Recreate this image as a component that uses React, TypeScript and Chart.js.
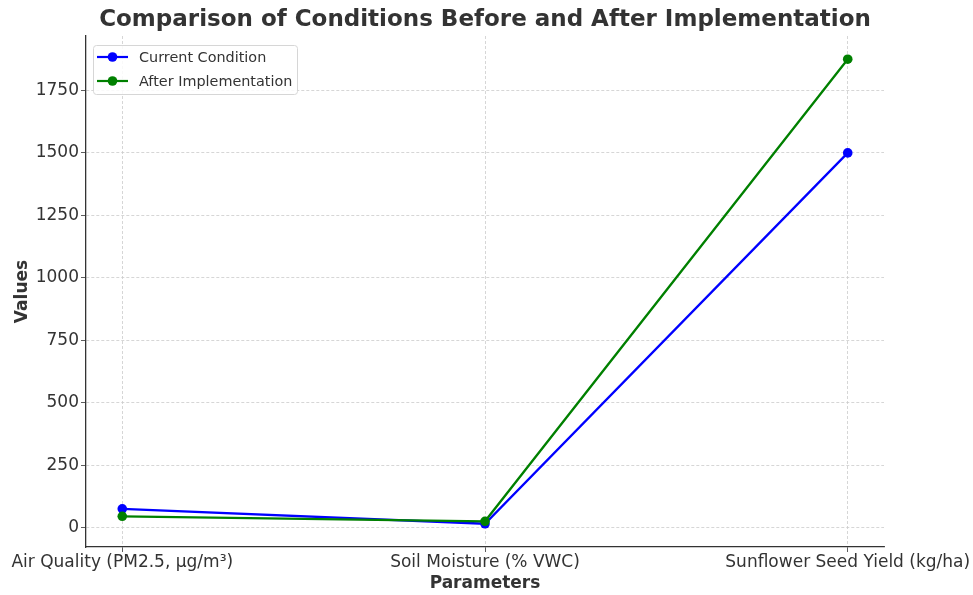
import React, { useEffect, useRef } from "react";
import { Chart, registerables } from "chart.js";

Chart.register(...registerables);

const categories = [
  "Air Quality (PM2.5, µg/m³)",
  "Soil Moisture (% VWC)",
  "Sunflower Seed Yield (kg/ha)",
];
const currentCondition = [75, 15, 1500];
const afterImplementation = [45, 25, 1875];
const yTickValues = [0, 250, 500, 750, 1000, 1250, 1500, 1750];
const seriesNames = ["Current Condition", "After Implementation"];
const seriesColors = ["#0000ff", "#008000"];
const titleText = "Comparison of Conditions Before and After Implementation";
const xTitle = "Parameters";
const yTitle = "Values";

const FONT = "'DejaVu Sans', sans-serif";
const TEXT = "#333333";

const decorPlugin = {
  id: "decor",
  afterDraw(chart: any) {
    const ctx = chart.ctx as CanvasRenderingContext2D;
    const ca = chart.chartArea;
    ctx.save();
    ctx.fillStyle = TEXT;
    ctx.font = `bold 23px ${FONT}`;
    ctx.textAlign = "center";
    ctx.textBaseline = "middle";
    ctx.fillText(titleText, (ca.left + ca.right) / 2, 20);
    ctx.font = `bold 17px ${FONT}`;
    ctx.fillText(xTitle, (ca.left + ca.right) / 2, 584);
    ctx.save();
    ctx.translate(23, (ca.top + ca.bottom) / 2);
    ctx.rotate(-Math.PI / 2);
    ctx.fillText(yTitle, 0, 0);
    ctx.restore();
    const lx = 93, ly = 45, lw = 204, lh = 49;
    ctx.beginPath();
    (ctx as any).roundRect(lx + 0.5, ly + 0.5, lw, lh, 3);
    ctx.fillStyle = "rgba(255,255,255,0.85)";
    ctx.fill();
    ctx.strokeStyle = "#d6d6d6";
    ctx.lineWidth = 1;
    ctx.stroke();
    ctx.font = `14.4px ${FONT}`;
    ctx.textAlign = "left";
    seriesNames.forEach((name, i) => {
      const y = 57 + i * 24;
      ctx.strokeStyle = seriesColors[i];
      ctx.lineWidth = 2.2;
      ctx.beginPath();
      ctx.moveTo(97, y);
      ctx.lineTo(128, y);
      ctx.stroke();
      ctx.fillStyle = seriesColors[i];
      ctx.beginPath();
      ctx.arc(112.5, y, 4.8, 0, Math.PI * 2);
      ctx.fill();
      ctx.fillStyle = TEXT;
      ctx.fillText(name, 139, y + 1);
    });
    ctx.restore();
  },
};

export default function App() {
  const ref = useRef<HTMLCanvasElement>(null);
  useEffect(() => {
    document.body.style.margin = "0";
    const toPts = (arr: number[]) => arr.map((v, i) => ({ x: i, y: v }));
    const chart = new Chart(ref.current!, {
      type: "line",
      data: {
        datasets: [
          {
            label: seriesNames[0],
            data: toPts(currentCondition),
            borderColor: seriesColors[0],
            backgroundColor: seriesColors[0],
            borderWidth: 2.3,
            pointRadius: 4.8,
            pointBorderWidth: 0,
            order: 1,
          },
          {
            label: seriesNames[1],
            data: toPts(afterImplementation),
            borderColor: seriesColors[1],
            backgroundColor: seriesColors[1],
            borderWidth: 2.3,
            pointRadius: 4.8,
            pointBorderWidth: 0,
            order: 0,
          },
        ],
      },
      options: {
        animation: false,
        responsive: false,
        layout: { padding: { top: 36, left: 0, right: 89, bottom: 0 } },
        plugins: { legend: { display: false }, title: { display: false }, tooltip: { enabled: false } },
        scales: {
          x: {
            type: "linear",
            min: -0.1,
            max: 2.1,
            afterBuildTicks: (s: any) => {
              s.ticks = categories.map((_, i) => ({ value: i }));
            },
            afterFit: (s: any) => {
              s.height = 48;
              s.paddingLeft = 0;
              s.paddingRight = 0;
            },
            ticks: {
              callback: (v: any) => categories[v as number] ?? "",
              color: TEXT,
              font: { family: FONT, size: 17 },
              padding: 0,
              maxRotation: 0,
              autoSkip: false,
            },
            grid: {
              color: "#cccccc",
              lineWidth: 0.8,
              tickLength: 5,
              tickColor: TEXT,
              drawTicks: true,
            },
            border: { display: true, color: TEXT, width: 1.3, dash: [3, 2] } as any,
          },
          y: {
            type: "linear",
            min: -78,
            max: 1968,
            afterBuildTicks: (s: any) => {
              s.ticks = yTickValues.map((v) => ({ value: v }));
            },
            afterFit: (s: any) => {
              s.width = 86;
            },
            ticks: {
              callback: (v: any) => String(v),
              color: TEXT,
              font: { family: FONT, size: 17 },
              padding: 2,
            },
            grid: {
              color: "#cccccc",
              lineWidth: 0.8,
              tickLength: 5,
              tickColor: TEXT,
              drawTicks: true,
            },
            border: { display: true, color: TEXT, width: 1.3, dash: [3, 2] } as any,
          },
        },
      } as any,
      plugins: [decorPlugin],
    });
    return () => chart.destroy();
  }, []);
  return (
    <div style={{ width: 973, height: 595 }}>
      <canvas ref={ref} width={973} height={595} style={{ display: "block" }} />
    </div>
  );
}
